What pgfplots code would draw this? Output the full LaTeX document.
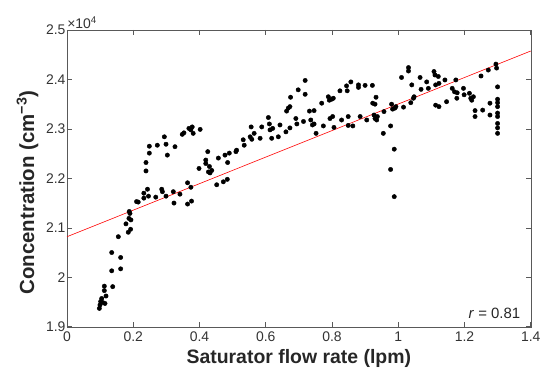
\documentclass[border=0pt]{standalone}
\usepackage{fontspec}
\setmainfont{Liberation Sans}
\usepackage{pgfplots}
\pgfplotsset{compat=1.18}
\usetikzlibrary{calc}
\begin{document}
\begin{tikzpicture}
\begin{axis}[
  scale only axis, width=463.7bp, height=296.7bp,
  xmin=0, xmax=1.4, ymin=1.9, ymax=2.5,
  xtick={0,0.2,0.4,0.6,0.8,1,1.2,1.4},
  ytick={1.9,2,2.1,2.2,2.3,2.4,2.5},
  xticklabels={0,0.2,0.4,0.6,0.8,1,1.2,1.4},
  yticklabels={1.9,2,2.1,2.2,2.3,2.4,2.5},
  tick align=inside, major tick length=5bp,
  axis line style={black!65}, tick style={black!65, line width=0.5pt},
  ticklabel style={font=\fontsize{14}{14}\selectfont, text=black!80},
  xticklabel style={yshift=-2bp},
  yticklabel style={xshift=2bp},
  xlabel={\bfseries Saturator flow rate (lpm)},
  ylabel={\bfseries Concentration (cm\textsuperscript{−3})},
  xlabel style={font=\fontsize{19.5}{20}\selectfont, text=black!85,
    at={(rel axis cs:0.5,0)}, anchor=center, yshift=-32bp},
  ylabel style={font=\fontsize{20.5}{21}\selectfont, text=black!85,
    at={(rel axis cs:0,0.452)}, anchor=center, yshift=39.5bp},
  clip=false,
]
\coordinate (ll) at (rel axis cs:0,0);
\coordinate (ur) at (rel axis cs:1,1);
\addplot[red, line width=0.6pt] coordinates {(0,2.082) (1.4,2.4575)};
\addplot[only marks, mark=*, mark size=2.2pt, black] table {
x y
0.0977 1.937
0.0996 1.944
0.1016 1.951
0.1047 1.957
0.1077 1.949
0.1147 1.947
0.1178 1.962
0.1127 1.973
0.1127 1.982
0.138 1.981
0.135 2.013
0.135 2.050
0.162 2.040
0.162 2.017
0.155 2.082
0.178 2.108
0.185 2.091
0.192 2.097
0.187 2.119
0.190 2.129
0.188 2.133
0.193 2.116
0.210 2.153
0.215 2.152
0.232 2.160
0.232 2.170
0.243 2.178
0.246 2.164
0.268 2.162
0.286 2.178
0.288 2.173
0.299 2.164
0.321 2.173
0.323 2.150
0.341 2.168
0.364 2.191
0.364 2.148
0.374 2.182
0.376 2.154
0.452 2.187
0.472 2.193
0.484 2.198
0.2385 2.232
0.2385 2.215
0.2486 2.251
0.2486 2.265
0.2727 2.267
0.2939 2.284
0.299 2.269
0.303 2.247
0.326 2.264
0.348 2.289
0.353 2.292
0.368 2.301
0.374 2.298
0.378 2.304
0.381 2.291
0.402 2.299
0.3986 2.220
0.419 2.237
0.419 2.230
0.425 2.254
0.430 2.224
0.427 2.213
0.432 2.211
0.437 2.216
0.457 2.241
0.477 2.247
0.485 2.232
0.490 2.251
0.510 2.254
0.512 2.257
0.532 2.278
0.535 2.267
0.553 2.284
0.556 2.304
0.558 2.279
0.565 2.291
0.583 2.281
0.588 2.304
0.608 2.323
0.611 2.310
0.613 2.298
0.618 2.281
0.621 2.301
0.638 2.284
0.643 2.308
0.661 2.294
0.663 2.336
0.668 2.342
0.673 2.345
0.675 2.364
0.691 2.321
0.694 2.310
0.698 2.379
0.719 2.398
0.719 2.370
0.732 2.336
0.673 2.302
0.714 2.315
0.746 2.337
0.736 2.318
0.741 2.308
0.746 2.310
0.752 2.291
0.769 2.352
0.774 2.306
0.789 2.365
0.792 2.358
0.799 2.360
0.804 2.362
0.794 2.321
0.802 2.325
0.806 2.303
0.824 2.377
0.829 2.318
0.844 2.387
0.846 2.377
0.849 2.325
0.849 2.307
0.857 2.395
0.863 2.306
0.880 2.389
0.880 2.384
0.885 2.325
0.900 2.388
0.905 2.318
0.922 2.388
0.923 2.352
0.930 2.350
0.933 2.364
0.927 2.328
0.930 2.321
0.937 2.325
0.935 2.318
0.957 2.335
0.955 2.291
0.977 2.306
0.980 2.350
0.983 2.340
0.990 2.342
0.993 2.345
0.988 2.259
0.977 2.218
0.988 2.163
1.010 2.404
1.016 2.344
1.031 2.417
1.031 2.424
1.038 2.353
1.041 2.389
1.046 2.362
1.048 2.365
1.066 2.404
1.069 2.380
1.086 2.395
1.091 2.382
1.108 2.416
1.111 2.409
1.113 2.389
1.121 2.406
1.123 2.392
1.113 2.348
1.123 2.345
1.141 2.399
1.146 2.355
1.163 2.382
1.170 2.375
1.174 2.399
1.177 2.362
1.178 2.373
1.197 2.382
1.199 2.369
1.215 2.372
1.219 2.362
1.222 2.358
1.227 2.365
1.232 2.337
1.232 2.325
1.255 2.338
1.250 2.407
1.272 2.419
1.277 2.352
1.277 2.328
1.295 2.431
1.297 2.423
1.300 2.385
1.300 2.360
1.300 2.353
1.300 2.345
1.300 2.332
1.300 2.325
1.300 2.311
1.300 2.302
1.300 2.291
};
\node[anchor=south east, font=\fontsize{15}{15}\selectfont, text=black!85] at (rel axis cs:0.985,0.015) {\textit{r} = 0.81};
\node[anchor=south west, font=\fontsize{14}{14}\selectfont, text=black!80, inner sep=1bp] at (rel axis cs:-0.002,1.0) {×10\textsuperscript{4}};
\end{axis}
\pgfresetboundingbox
\path ($(ll)+(-67bp,-42.3bp)$) rectangle ($(ur)+(11.3bp,30bp)$);
\end{tikzpicture}
\end{document}
